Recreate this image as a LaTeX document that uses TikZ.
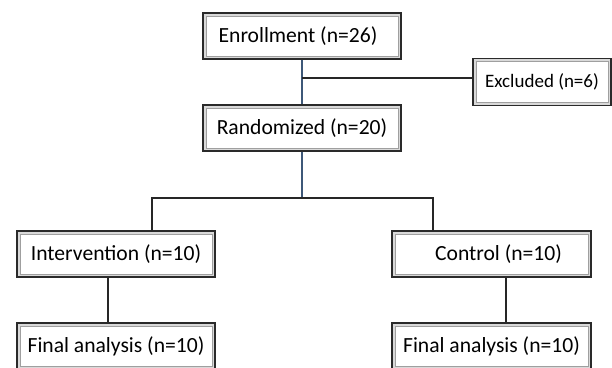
\documentclass[tikz,border=0pt]{standalone}
\usepackage{fontspec}
\setmainfont{Carlito}
\definecolor{bluel}{HTML}{3E5878}
\definecolor{frame}{HTML}{2A2A2A}
\tikzset{
  box/.style={draw=frame, line width=1.1pt, fill=gray!30, inner sep=0pt,
    minimum width=#1, align=center,
    path picture={\draw[gray!75, line width=0.6pt, fill=white]
      ([shift={(3.2pt,3.2pt)}]path picture bounding box.south west) rectangle
      ([shift={(-3.2pt,-3.2pt)}]path picture bounding box.north east);}},
  bigbox/.style={box=#1, minimum height=46pt, font=\fontsize{21.6}{24}\selectfont},
  smallbox/.style={box=#1, minimum height=47pt, font=\fontsize{19}{22}\selectfont},
  conn/.style={line width=1.1pt, draw=black!85},
  bconn/.style={line width=1.1pt, draw=bluel}
}
\begin{document}
\begin{tikzpicture}[x=1pt,y=-1pt]
\useasboundingbox (0,0) rectangle (612,367);
\clip (0,0) rectangle (612,367);
\node[bigbox=198pt] (enr) at (302,36) {\hspace*{-8pt}Enrollment (n=26)};
\node[bigbox=198pt] (rnd) at (302,128) {Randomized (n=20)};
\node[smallbox=138pt] (exc) at (542,82) {Excluded (n=6)};
\node[bigbox=198pt] (int) at (116,254) {Intervention (n=10)};
\node[bigbox=199pt] (ctl) at (491.5,254) {\hspace*{14pt}Control (n=10)};
\node[bigbox=198pt] (fa1) at (116,346) {Final analysis (n=10)};
\node[bigbox=199pt] (fa2) at (491.5,346) {Final analysis (n=10)};
\coordinate (j1) at (302,78);
\coordinate (j2) at (302,198);
\draw[bconn] (enr.south) -- (rnd.north);
\draw[conn] (j1) -- (j1 -| exc.west);
\draw[bconn] (rnd.south) -- (j2);
\draw[conn] (152,231) |- (j2) -| (433,231);
\draw[conn] (int.south -| 108,0) -- (fa1.north -| 108,0);
\draw[conn] (ctl.south -| 506,0) -- (fa2.north -| 506,0);
\end{tikzpicture}
\end{document}
